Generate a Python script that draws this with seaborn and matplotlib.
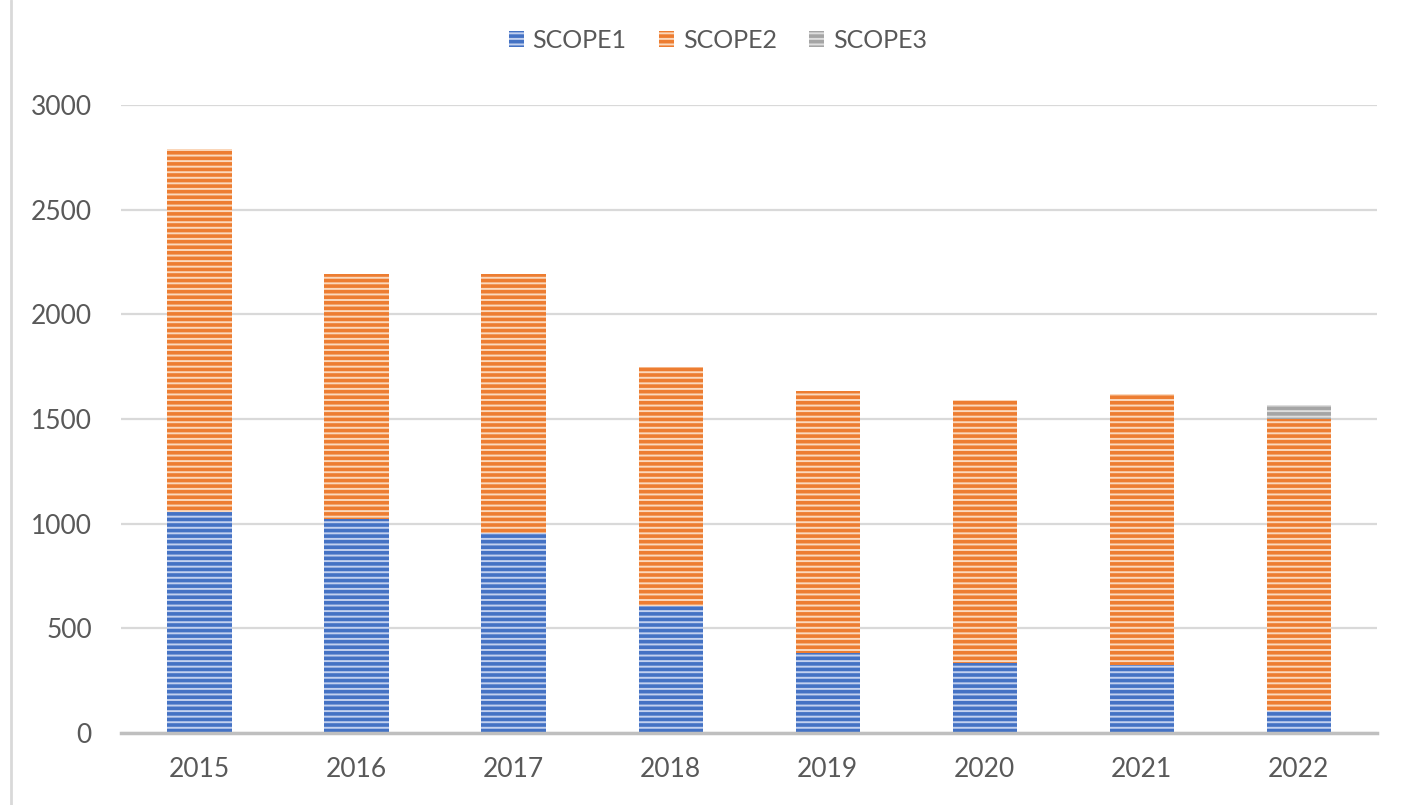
import matplotlib
matplotlib.use("Agg")
import matplotlib.pyplot as plt
import seaborn as sns
import pandas as pd
from matplotlib.lines import Line2D

years = ["2015", "2016", "2017", "2018", "2019", "2020", "2021", "2022"]
scope1 = [1055, 1022, 955, 607, 382, 334, 325, 105]
scope2 = [1735, 1173, 1240, 1142, 1252, 1257, 1295, 1395]
scope3 = [0, 0, 0, 0, 0, 0, 0, 67]
series_names = ["SCOPE1", "SCOPE2", "SCOPE3"]

df = pd.DataFrame({"year": years, "SCOPE1": scope1, "SCOPE2": scope2, "SCOPE3": scope3})
df["base2"] = df["SCOPE1"]
df["base3"] = df["SCOPE1"] + df["SCOPE2"]

sns.set_theme(style="white")
plt.rcParams["font.family"] = ["Lato", "DejaVu Sans"]
plt.rcParams["hatch.linewidth"] = 2.6

# (light fill, stripe colour)
colors = {
    "SCOPE1": ("#c3d1ef", "#4472C4"),
    "SCOPE2": ("#fbd9bd", "#ED7D31"),
    "SCOPE3": ("#dedede", "#a5a5a5"),
}
bases = {"SCOPE1": None, "SCOPE2": "base2", "SCOPE3": "base3"}

fig = plt.figure(figsize=(14.07, 8.05), dpi=100)
ax = fig.add_axes([0.086, 0.0894, 0.893, 0.7802])

for name in series_names:
    light, dark = colors[name]
    kw = {}
    if bases[name] is not None:
        kw["bottom"] = df[bases[name]]
    n_before = len(ax.patches)
    sns.barplot(data=df, x="year", y=name, ax=ax, width=0.41, color=light,
                saturation=1, label=name, **kw)
    for p in ax.patches[n_before:]:
        p.set_facecolor(light)
        p.set_edgecolor(dark)
        p.set_hatch("---")
        p.set_linewidth(0)

ax.set_ylim(0, 3000)
ax.set_yticks(range(0, 3001, 500))
ax.set_xlim(-0.5, len(years) - 0.5)
ax.set_xlabel("")
ax.set_ylabel("")
ax.yaxis.grid(True, color="#d9d9d9", linewidth=1.6)
ax.set_axisbelow(True)
for s in ["top", "right", "left"]:
    ax.spines[s].set_visible(False)
ax.spines["bottom"].set_color("#bfbfbf")
ax.spines["bottom"].set_linewidth(2.5)
ax.tick_params(axis="both", length=0, labelsize=19, labelcolor="#595959")
ax.tick_params(axis="y", pad=21)
ax.tick_params(axis="x", pad=17)

ax.legend(loc="center", bbox_to_anchor=(0.475, 1.103), ncol=3, frameon=False,
          fontsize=18, labelcolor="#595959", handlelength=0.6, handleheight=0.6,
          handletextpad=0.35, columnspacing=1.3)

# thin frame line on the left edge
fig.add_artist(Line2D([0.0075, 0.0075], [0, 1], color="#d9d9d9", linewidth=2,
                      transform=fig.transFigure))

plt.savefig("out.png", dpi=100)
plt.close()
